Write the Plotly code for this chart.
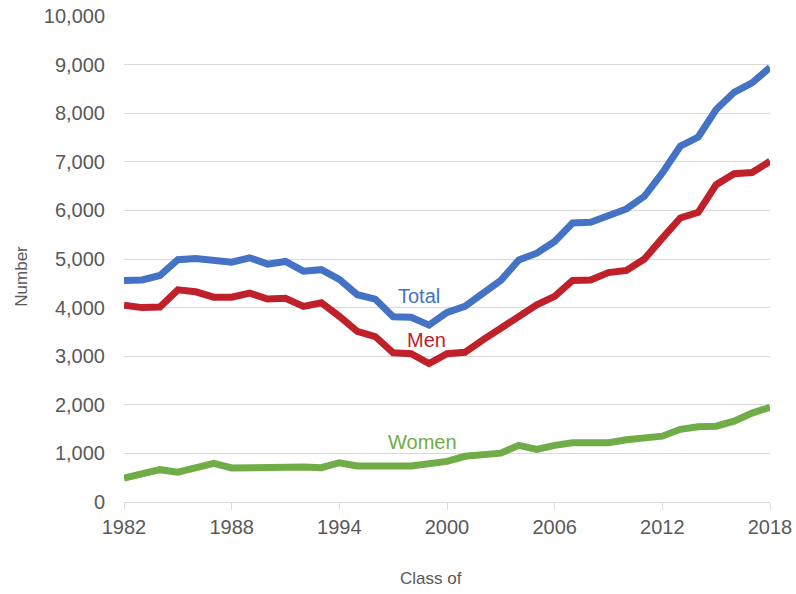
import plotly.graph_objects as go

years = list(range(1982, 2019))
total = [4560, 4570, 4660, 4985, 5010, 4990, 4935, 5025, 4895, 4950, 4750, 4780, 4580,
         4265, 4175, 3810, 3800, 3640, 3900, 4025, 4300, 4560, 4980, 5120, 5360, 5740,
         5755, 5910, 6030, 6290, 6770, 7320, 7510, 8075, 8430, 8625, 8940]
men = [4050, 4000, 4010, 4365, 4325, 4215, 4215, 4300, 4175, 4190, 4025, 4100, 3820,
       3510, 3405, 3070, 3050, 2850, 3050, 3080, 3335, 3575, 3850, 4055, 4230, 4560,
       4570, 4720, 4765, 5000, 5430, 5845, 5960, 6530, 6755, 6780, 7010]
women = [490, 580, 665, 615, 705, 795, 700, 712, 712, 733, 720, 705, 808,
         740, 753, 740, 740, 775, 835, 940, 965, 1005, 1165, 1080, 1165, 1220,
         1220, 1220, 1280, 1300, 1355, 1495, 1550, 1560, 1665, 1830, 1950]

series_names = ["Total", "Men", "Women"]
colors = ["#4472C4", "#C0202A", "#70AD47"]
label_pos = [(1998.45, 4243), (1998.84, 3337), (1998.62, 1236)]
x_ticks = [1982, 1988, 1994, 2000, 2006, 2012, 2018]
y_ticks = [0, 1000, 2000, 3000, 4000, 5000, 6000, 7000, 8000, 9000, 10000]

FONT = "Liberation Sans"
fig = go.Figure()
for name, vals, col in zip(series_names, [total, men, women], colors):
    fig.add_trace(go.Scatter(x=years, y=vals, mode="lines", name=name,
                             line=dict(color=col, width=7), showlegend=False,
                             cliponaxis=False))

for name, col, (lx, ly) in zip(series_names, colors, label_pos):
    fig.add_annotation(x=lx, y=ly, text=name, showarrow=False,
                       font=dict(family=FONT, size=20, color=col))

fig.add_annotation(xref="paper", yref="paper", x=0.475, y=-0.158, text="Class of",
                   xanchor="center", yanchor="middle", showarrow=False,
                   font=dict(family=FONT, size=17, color="#595959"))
fig.add_annotation(xref="paper", yref="paper", x=-0.158, y=0.4655, text="Number",
                   xanchor="center", yanchor="middle", textangle=-90, showarrow=False,
                   font=dict(family=FONT, size=17, color="#595959"))

fig.update_layout(
    width=796, height=594,
    margin=dict(l=124, r=26, t=16, b=92),
    paper_bgcolor="white", plot_bgcolor="white",
    font=dict(family=FONT, size=20, color="#595959"),
    xaxis=dict(range=[1982, 2018], tickvals=x_ticks, showgrid=False,
               showline=True, linecolor="#D9D9D9", linewidth=1,
               ticks="outside", ticklen=7, tickcolor="#D9D9D9",
               tickfont=dict(size=20, color="#595959"), zeroline=False,
               automargin=False, ticklabeloverflow="allow"),
    yaxis=dict(range=[0, 10000], tickvals=y_ticks,
               tickformat=",", showgrid=True,
               gridcolor="#D9D9D9", gridwidth=1, zeroline=False, showline=False,
               ticklabelstandoff=18, automargin=False, ticklabeloverflow="allow",
               tickfont=dict(size=20, color="#595959")),
)

fig.write_html("out.html", config={"displayModeBar": False},
               post_script="document.body.style.margin='0';")
